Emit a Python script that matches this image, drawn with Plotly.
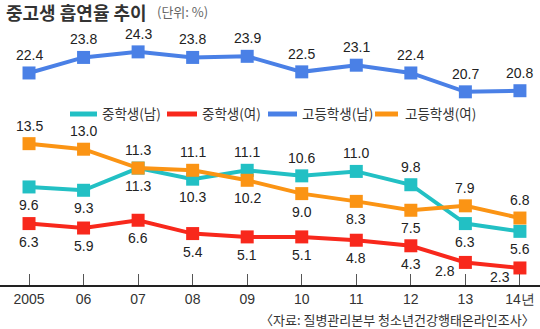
import plotly.graph_objects as go

years = ["2005", "06", "07", "08", "09", "10", "11", "12", "13", "14년"]
mid_m = [9.6, 9.3, 11.3, 10.3, 11.1, 10.6, 11.0, 9.8, 6.3, 5.6]
mid_f = [6.3, 5.9, 6.6, 5.4, 5.1, 5.1, 4.8, 4.3, 2.8, 2.3]
high_m = [22.4, 23.8, 24.3, 23.8, 23.9, 22.5, 23.1, 22.4, 20.7, 20.8]
high_f = [13.5, 13.0, 11.3, 11.1, 10.2, 9.0, 8.3, 7.5, 7.9, 6.8]

names = ["중학생(남)", "중학생(여)", "고등학생(남)", "고등학생(여)"]
colors = ["#22c0c4", "#f8281c", "#4a80e6", "#fb9414"]

# label placement: +1 above, -1 below, "L" left-below
pos_mid_m = [-1, -1, -1, -1, 1, 1, 1, 1, -1, -1]
pos_mid_f = [-1, -1, -1, -1, -1, -1, -1, -1, "L", "L"]
pos_high_m = [1] * 10
pos_high_f = [1, 1, 1, 1, -1, -1, -1, -1, 1, 1]

idx = list(range(len(years)))
NUMFONT = "Liberation Sans Narrow, Arial Narrow, Liberation Sans, Arial"
KFONT = "Noto Sans CJK KR"

fig = go.Figure()
series = [
    (mid_m, pos_mid_m, "y"),
    (mid_f, pos_mid_f, "y"),
    (high_m, pos_high_m, "y2"),
    (high_f, pos_high_f, "y"),
]
annotations = []
for (vals, pos, ax), name, col in zip(series, names, colors):
    fig.add_trace(go.Scatter(
        x=idx, y=vals, name=name, yaxis=ax, mode="lines+markers",
        line=dict(color=col, width=4),
        marker=dict(symbol="square", size=13, color=col),
        showlegend=False, cliponaxis=False,
    ))
    for i, (v, p) in enumerate(zip(vals, pos)):
        if p == "L":
            xs, ys = -20, -9
        else:
            xs, ys = 0, 18 * p
        annotations.append(dict(
            x=i, y=v, xref="x", yref=ax, text=f"{v:.1f}", showarrow=False,
            xshift=xs, yshift=ys,
            font=dict(family=NUMFONT, size=14, color="#222"),
        ))

# title
annotations.append(dict(x=4, y=12, xref="paper", yref="paper", text="<b>중고생 흡연율 추이</b>",
                        showarrow=False, xanchor="left", yanchor="middle",
                        font=dict(family=KFONT, size=18, color="#333")))
# legend
leg = [(70, 97, 100), (167, 197, 200), (268, 297, 300), (375, 398, 403)]
shapes = []
for (x0, x1, tx), name, col in zip(leg, names, colors):
    shapes.append(dict(type="line", xref="paper", yref="paper", x0=x0, x1=x1, y0=114, y1=114,
                       line=dict(color=col, width=5)))
    annotations.append(dict(x=tx, y=113, xref="paper", yref="paper", text=name, showarrow=False,
                            xanchor="left", yanchor="middle",
                            font=dict(family=KFONT, size=13.5, color="#333")))
annotations.append(dict(x=537, y=319, xref="paper", yref="paper",
                        text="〈자료: 질병관리본부 청소년건강행태온라인조사〉", showarrow=False,
                        xanchor="right", yanchor="middle",
                        font=dict(family=KFONT, size=13, color="#333")))
annotations.append(dict(x=155, y=12, xref="paper", yref="paper", text="(단위: %)", showarrow=False,
                        xanchor="left", yanchor="middle",
                        font=dict(family=KFONT, size=13, color="#666")))

W, H = 540, 329
T, B = 40, 44
# convert pixel-based paper coords for annotations/shapes
for a in annotations:
    if a["xref"] == "paper":
        a["x"] = a["x"] / W
        a["y"] = 1 - (a["y"] - T) / (H - T - B)
        a["yref"] = "paper"
for s in shapes:
    s["x0"] /= W
    s["x1"] /= W
    s["y0"] = 1 - (s["y0"] - T) / (H - T - B)
    s["y1"] = 1 - (s["y1"] - T) / (H - T - B)

fig.update_layout(
    width=W, height=H, margin=dict(l=0, r=0, t=T, b=B),
    paper_bgcolor="white", plot_bgcolor="white",
    annotations=annotations, shapes=shapes,
    xaxis=dict(range=[-0.532, 9.368], tickmode="array", tickvals=idx, ticktext=years,
               showgrid=False, zeroline=False, showline=True, linecolor="#222", linewidth=2,
               ticks="inside", ticklen=11, tickcolor="#555", tickwidth=1,
               tickfont=dict(family=NUMFONT, size=14, color="#333")),
    yaxis=dict(range=[0.766, 22.84], visible=False, showgrid=False, zeroline=False),
    yaxis2=dict(range=[3.297, 25.37], visible=False, overlaying="y", showgrid=False, zeroline=False),
)

fig.write_html("out.html")
